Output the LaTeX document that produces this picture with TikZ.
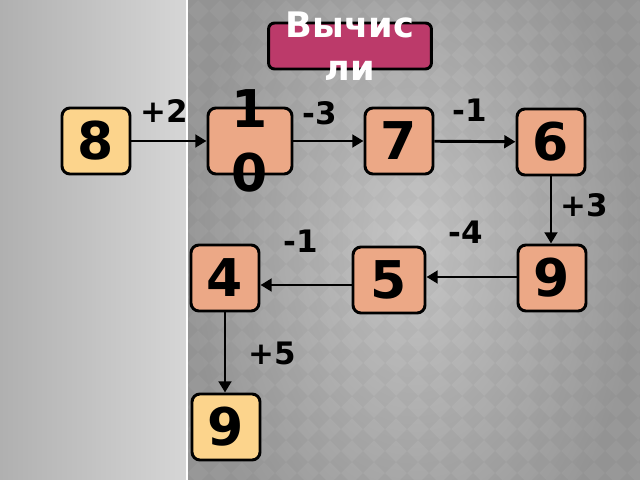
\documentclass[tikz,border=0pt]{standalone}
\usepackage{fontspec}
\setmainfont{DejaVu Sans}
\usetikzlibrary{arrows.meta}
\definecolor{panelL}{RGB}{176,176,176}
\definecolor{panelR}{RGB}{214,214,214}
\definecolor{fieldIn}{RGB}{198,198,198}
\definecolor{fieldOut}{RGB}{152,152,152}
\definecolor{titlefill}{RGB}{188,58,106}
\definecolor{stepfill}{RGB}{236,168,134}
\definecolor{endfill}{RGB}{252,212,140}
\tikzset{
  numbox/.style={draw=black,line width=2.1pt,rounded corners=0.2cm,fill=stepfill,
    minimum width=1.7cm,minimum height=1.65cm,inner sep=0pt,align=center,
    font=\fontsize{37}{45}\selectfont\bfseries},
  endbox/.style={numbox,fill=endfill},
  lbl/.style={font=\fontsize{22}{26}\selectfont\bfseries,inner sep=0pt},
  link/.style={line width=2.1pt,-{Triangle[length=8pt,width=9pt]}}
}
\begin{document}
\begin{tikzpicture}[x=0.025cm,y=-0.025cm]
              \useasboundingbox (0,0) rectangle (640,480);
              % background
              \shade[left color=panelL,right color=panelR] (0,0) rectangle (187,480);
              \begin{scope}
                  \clip (187,0) rectangle (640,480);
                  \shade[inner color=fieldIn,outer color=fieldOut] (187,-120) rectangle (640,600);
                  \foreach \i in {0,...,21} {
                      \foreach \j in {0,...,22} {
                          \fill[black,opacity=0.03] (187+22*\i,22*\j-11) -- ++(11,11) -- ++(-11,11) -- ++(-11,-11) -- cycle;
                      }
                  }
              \end{scope}
              \draw[white,line width=1.2pt] (187,0) -- (187,480);

              \node[draw=black,line width=2.1pt,rounded corners=0.15cm,fill=titlefill,
                  minimum width=4.07cm,minimum height=1.15cm,
                  label={[text=white,align=center,font=\fontsize{25}{31}\selectfont\bfseries]center:Вычис\\ли}] (title) at (350,46) {};

              \begin{scope}[every node/.style={numbox}]
                  \node[endbox] (n8) at (96,141) {8};
                  \node[minimum width=2.1cm,
                      label={[font=\fontsize{37}{46}\selectfont\bfseries,align=center]center:1\\0}] (n10) at (250,141) {};
                  \node (n7) at (399,141) {7};
                  \node (n6) at (551,142) {6};
                  \node (n9) at (552,278) {9};
                  \node[minimum width=1.8cm] (n5) at (389,280) {5};
                  \node (n4) at (225,278) {4};
                  \node[endbox] (n9b) at (226,427) {9};
              \end{scope}

              \begin{scope}[every node/.style={lbl}]
                  \node (l2) at (164,111) {+2};
                  \node (l3) at (320,113) {-3};
                  \node (l1) at (470,110) {-1};
                  \node (l3b) at (584,205) {+3};
                  \node (l4) at (466,232) {-4};
                  \node (l1b) at (301,241) {-1};
                  \node (l5) at (272,353) {+5};
              \end{scope}

              \begin{scope}
                  \path [link] (n8) edge (n10);
                  \path [link] (n10) edge (n7);
                  \path [link] (n7) edge (n6);
                  \path [link] (n6.south -| 551,0) edge (n9.north -| 551,0);
                  \path [link] (n9.west |- 0,277) edge (n5.east |- 0,277);
                  \path [link] (n5.west |- 0,285) edge (n4.east |- 0,285);
                  \path [link] (n4.south -| 225,0) edge (n9b.north -| 225,0);
              \end{scope}
              \end{tikzpicture}
\end{document}
